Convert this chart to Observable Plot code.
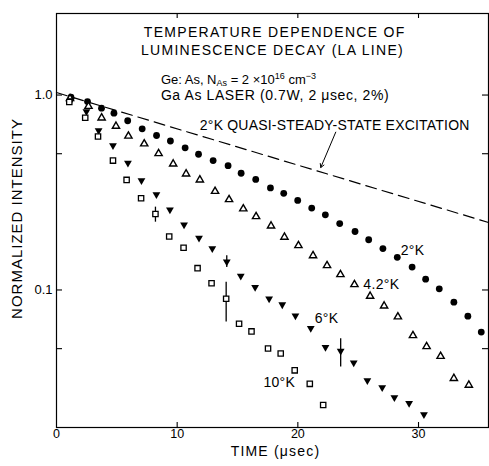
<!DOCTYPE html>
<html><head><meta charset="utf-8">
<script src="https://cdn.jsdelivr.net/npm/d3@7"></script>
<script src="https://cdn.jsdelivr.net/npm/@observablehq/plot@0.6"></script>
<style>
body{margin:0;background:#fff;}
#chart svg{display:block;}
</style></head><body><div id="chart"></div>
<script>
// ---- data ----
const t2K = [1.20,2.57,3.73,4.76,5.90,7.10,8.29,9.44,10.66,11.77,12.98,14.22,15.30,16.51,17.73,18.83,19.99,21.15,22.28,23.47,24.74,25.87,27.05,28.24,29.47,30.59,31.72,32.93,34.09,35.20];
const v2K = [0.974,0.926,0.856,0.807,0.738,0.671,0.620,0.581,0.536,0.497,0.461,0.434,0.397,0.369,0.334,0.313,0.288,0.263,0.243,0.219,0.1995,0.181,0.163,0.147,0.131,0.1136,0.1014,0.0866,0.0734,0.0608];

const t42K = [1.12,2.65,3.74,4.93,5.96,7.27,8.46,9.67,10.74,11.88,13.14,14.30,15.48,16.54,17.78,18.89,20.05,21.26,22.42,23.53,24.69,25.99,27.15,28.29,29.54,30.67,31.83,32.93,34.17];
const v42K = [0.96,0.876,0.764,0.692,0.616,0.562,0.501,0.443,0.394,0.367,0.321,0.291,0.261,0.238,0.213,0.1866,0.169,0.150,0.1335,0.120,0.1067,0.0929,0.0828,0.0729,0.0584,0.0513,0.0457,0.0352,0.0325];

const t6K = [1.20,2.48,3.49,4.68,5.92,7.04,8.28,9.40,10.57,11.81,12.91,14.11,15.27,16.46,17.62,18.71,19.80,21.07,22.29,23.55,24.63,25.76,26.99,28.00,29.22,30.45];
const v6K = [0.937,0.823,0.658,0.551,0.448,0.364,0.309,0.258,0.216,0.185,0.163,0.1395,0.118,0.1034,0.0901,0.0841,0.0737,0.0637,0.0509,0.0486,0.0423,0.0343,0.0316,0.0281,0.0262,0.0230];

const t10K = [1.06,2.38,3.44,4.68,5.81,7.01,8.20,9.34,10.53,11.69,12.85,14.06,15.13,16.16,17.53,18.58,19.74,20.99,22.10];
const v10K = [0.921,0.765,0.613,0.461,0.367,0.2955,0.2453,0.188,0.1646,0.1294,0.1083,0.0901,0.0671,0.0613,0.0501,0.0472,0.0387,0.0330,0.0257];

// error bars
const errT  = [8.20, 14.06, 14.11, 23.55];
const errLo = [0.2227, 0.0684, 0.1304, 0.0402];
const errHi = [0.266, 0.1096, 0.150, 0.0562];

// 2 K quasi-steady-state excitation (dashed)
const tQSS = [0, 35.8];
const vQSS = [1.03, 0.222];

// tick values
const xTickLabels = [0, 10, 20, 30];
const xTickMarks = [10, 20, 30];
const yTickLabels = [0.1, 1.0];
const yTickMarks = [0.05, 0.1, 0.5, 1.0];

// curve labels
const curveLabels = ["2°K", "4.2°K", "6°K", "10°K"];
const curveLabelT = [28.52, 25.43, 21.40, 17.15];
const curveLabelV = [0.1594, 0.1067, 0.0714, 0.0337];

// titles / annotations
const titleLines = ["TEMPERATURE DEPENDENCE OF", "LUMINESCENCE DECAY (LA LINE)"];
const titleT = [7.24, 7.0];
const titleV = [2.084, 1.701];
const geParts = ["Ge: As, N", "As", " = 2 ×10", "16", " cm", "−3"];
const laserLine = "Ga As LASER (0.7W, 2 μsec, 2%)";
const infoT = [8.65, 8.65];
const infoV = [1.2, 0.994];
const qssLabel = "2°K QUASI-STEADY-STATE EXCITATION";
const qssLabelT = 11.88, qssLabelV = 0.698;
const arrowFrom = [23.14, 0.645], arrowTo = [21.90, 0.425];
const xLabel = "TIME (μsec)";
const yLabel = "NORMALIZED INTENSITY";

// ---- build ----
const pts = (ts, vs) => ts.map((t, i) => ({t, v: vs[i]}));
const d2K = pts(t2K, v2K), d42K = pts(t42K, v42K), d6K = pts(t6K, v6K), d10K = pts(t10K, v10K);
const errs = errT.map((t, i) => ({t, lo: errLo[i], hi: errHi[i]}));
const qss = pts(tQSS, vQSS);
const labels = curveLabels.map((s, i) => ({s, t: curveLabelT[i], v: curveLabelV[i]}));
const titles = titleLines.map((s, i) => ({s, t: titleT[i], v: titleV[i]}));
const infos = [geParts.join(""), laserLine].map((s, i) => ({s, t: infoT[i], v: infoV[i]}));

const triangleDown = {
  draw(context, size) {
    const y = -Math.sqrt(size / (Math.sqrt(3) * 3));
    context.moveTo(0, -y * 2);
    context.lineTo(-Math.sqrt(3) * y, y);
    context.lineTo(Math.sqrt(3) * y, y);
    context.closePath();
  }
};

const FONT = "'Liberation Sans', Arial, sans-serif";

const chart = Plot.plot({
  width: 489, height: 466,
  marginLeft: 56, marginRight: 1, marginTop: 13, marginBottom: 39,
  style: {fontFamily: FONT, background: "#fff", color: "#000", overflow: "visible"},
  x: {domain: [0, 35.8], axis: null},
  y: {type: "log", domain: [0.0197, 2.62], axis: null},
  marks: [
    Plot.frame({stroke: "#000", strokeWidth: 1.2}),
    // inward ticks
    Plot.tickX(xTickMarks, {x: d => d, insetTop: 409, stroke: "#000", strokeWidth: 1.1}),
    Plot.tickX(xTickMarks, {x: d => d, insetBottom: 409, stroke: "#000", strokeWidth: 1.1}),
    Plot.tickY(yTickMarks, {y: d => d, insetRight: 426, stroke: "#000", strokeWidth: 1.1}),
    Plot.tickY(yTickMarks, {y: d => d, insetLeft: 426, stroke: "#000", strokeWidth: 1.1}),
    // tick labels
    Plot.axisX({ticks: xTickLabels, tickSize: 0, tickPadding: 2, fontSize: 12.5, label: null, tickFormat: d => String(d)}),
    Plot.axisY({ticks: yTickLabels, tickSize: 0, tickPadding: 4, fontSize: 13, label: null, tickFormat: d => d.toFixed(1)}),
    // axis titles
    Plot.text([xLabel], {frameAnchor: "bottom", lineAnchor: "middle", dx: 3, dy: 24, fontSize: 14, fill: "#000"}),
    Plot.text([yLabel], {frameAnchor: "left", textAnchor: "middle", lineAnchor: "middle", dx: -39, dy: -2, rotate: -90, fontSize: 15, fill: "#000"}),
    // dashed quasi-steady-state line
    Plot.line(qss, {x: "t", y: "v", stroke: "#000", strokeWidth: 1.2, strokeDasharray: "11,6"}),
    Plot.arrow([0], {x1: () => arrowFrom[0], y1: () => arrowFrom[1], x2: () => arrowTo[0], y2: () => arrowTo[1],
                     stroke: "#000", strokeWidth: 1, headLength: 6}),
    // error bars
    Plot.ruleX(errs, {x: "t", y1: "lo", y2: "hi", stroke: "#000", strokeWidth: 1.3}),
    // data
    Plot.dot(d2K, {x: "t", y: "v", r: 3.4, fill: "#000"}),
    Plot.dot(d42K, {x: "t", y: "v", symbol: "triangle", r: 2.7, stroke: "#000", strokeWidth: 1.4, fill: "#fff"}),
    Plot.dot(d6K, {x: "t", y: "v", symbol: triangleDown, r: 2.9, fill: "#000"}),
    Plot.dot(d10K, {x: "t", y: "v", symbol: "square", r: 3.0, stroke: "#000", strokeWidth: 1.3, fill: "#fff"}),
    // curve labels
    Plot.text(labels, {x: "t", y: "v", text: "s", textAnchor: "start", fontSize: 14, fill: "#000"}),
    // titles
    Plot.text(titles, {x: "t", y: "v", text: "s", textAnchor: "start", fontSize: 14, fill: "#000"}),
    Plot.text(infos, {x: "t", y: "v", text: "s", textAnchor: "start", fontSize: 14, fill: "#000"}),
    Plot.text([qssLabel], {x: () => qssLabelT, y: () => qssLabelV, textAnchor: "start", fontSize: 14, fill: "#000"})
  ]
});

document.getElementById("chart").appendChild(chart);

// letter spacing tweaks and sub/superscripts
const spacing = {};
titleLines.forEach(s => spacing[s] = 1.3);
spacing[laserLine] = 0.6;
spacing[xLabel] = 1.2;
spacing[yLabel] = 1.0;
spacing[qssLabel] = 0.2;
curveLabels.forEach(s => spacing[s] = 0.3);
const svg = d3.select(chart);
svg.selectAll("text").each(function() {
  const s = this.textContent;
  if (spacing[s] != null) this.style.letterSpacing = spacing[s] + "px";
});
svg.selectAll("text").filter(function() { return this.textContent === geParts.join(""); }).each(function() {
  const el = d3.select(this);
  el.text(null).attr("font-size", 13);
  el.append("tspan").text(geParts[0]);
  el.append("tspan").attr("font-size", 9).attr("dy", 2).text(geParts[1]);
  el.append("tspan").attr("dy", -2).text(geParts[2]);
  el.append("tspan").attr("font-size", 9).attr("dy", -5).text(geParts[3]);
  el.append("tspan").attr("dy", 5).text(geParts[4]);
  el.append("tspan").attr("font-size", 9).attr("dy", -5).text(geParts[5]);
});
</script>
</body></html>
